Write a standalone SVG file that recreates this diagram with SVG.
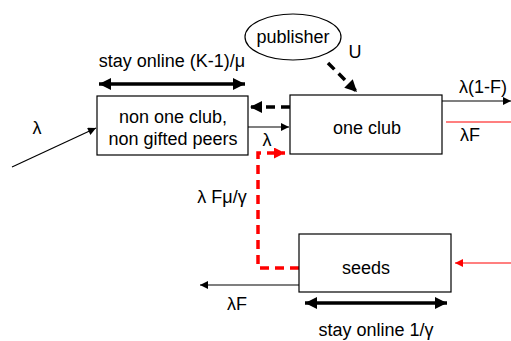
<svg xmlns="http://www.w3.org/2000/svg" width="511" height="341" viewBox="0 0 511 341">
<style>
text{font-family:"Liberation Sans",Arial,sans-serif;font-size:18px;fill:#000}
.box{fill:#fff;stroke:#000;stroke-width:1.2}
.thin{stroke:#000;stroke-width:1.2;fill:none}
.thick{stroke:#000;stroke-width:3.5;fill:none}
.dash{stroke:#000;stroke-width:3.5;fill:none;stroke-dasharray:9,6}
.rdash{stroke:#f00;stroke-width:3.5;fill:none;stroke-dasharray:9,6}
.red{stroke:#f00;stroke-width:1.2;fill:none}
</style>
<defs>
<marker id="a" viewBox="0 0 10 10" refX="10" refY="5" markerWidth="10" markerHeight="8" markerUnits="userSpaceOnUse" orient="auto-start-reverse"><path d="M0,0L10,5L0,10z" fill="#000"/></marker>
<marker id="ar" viewBox="0 0 10 10" refX="10" refY="5" markerWidth="10" markerHeight="8" markerUnits="userSpaceOnUse" orient="auto-start-reverse"><path d="M0,0L10,5L0,10z" fill="#f00"/></marker>
<marker id="A" viewBox="0 0 10 10" refX="10" refY="5" markerWidth="15" markerHeight="12" markerUnits="userSpaceOnUse" orient="auto-start-reverse"><path d="M0,0L10,5L0,10z" fill="#000"/></marker>
<marker id="AR" viewBox="0 0 10 10" refX="10" refY="5" markerWidth="13" markerHeight="11" markerUnits="userSpaceOnUse" orient="auto-start-reverse"><path d="M0,0L10,5L0,10z" fill="#f00"/></marker>
</defs>
<g id="connectors">
<line class="thin" x1="12" y1="167" x2="96" y2="128" marker-end="url(#a)"/>
<line class="thick" x1="99" y1="84" x2="245" y2="84" marker-start="url(#A)" marker-end="url(#A)"/>
<line class="dash" x1="328" y1="63" x2="357" y2="92" marker-end="url(#A)"/>
<line class="dash" x1="290" y1="107" x2="250" y2="107" marker-end="url(#A)"/>
<line class="thin" x1="248" y1="127" x2="289" y2="127" marker-end="url(#a)"/>
<path class="rdash" d="M299 268H258V153H285" marker-end="url(#AR)"/>
<line class="thin" x1="299" y1="285" x2="200" y2="285" marker-end="url(#a)"/>
<line class="thick" x1="305" y1="303" x2="447" y2="303" marker-start="url(#A)" marker-end="url(#A)"/>
<line class="red" x1="511" y1="263" x2="455" y2="263" marker-end="url(#ar)"/>
<line class="thin" x1="442" y1="101" x2="511" y2="101" marker-end="url(#a)"/>
<line class="red" x1="446" y1="122" x2="511" y2="122"/>
<text x="37" y="134" text-anchor="middle">λ</text>
<text x="172" y="67" text-anchor="middle">stay online (K-1)/μ</text>
<text x="355" y="58" text-anchor="middle">U</text>
<text x="267" y="146" text-anchor="middle">λ</text>
<text x="222" y="203" text-anchor="middle">λ Fμ/γ</text>
<text x="237" y="310" text-anchor="middle">λF</text>
<text x="376" y="336" text-anchor="middle">stay online 1/γ</text>
<text x="483" y="93" text-anchor="middle">λ(1-F)</text>
<text x="470" y="141" text-anchor="middle">λF</text>
</g>
<g id="publisher">
<ellipse cx="293" cy="37" rx="48" ry="23" fill="#fff" stroke="#000" stroke-width="1.2"/>
<text x="293" y="43" text-anchor="middle">publisher</text>
</g>
<g id="nonOneClub">
<rect class="box" x="97" y="96" width="151" height="59"/>
<text x="173" y="123" text-anchor="middle">non one club,</text>
<text x="173" y="145" text-anchor="middle">non gifted peers</text>
</g>
<g id="oneClub">
<rect class="box" x="290" y="95" width="152" height="59"/>
<text x="367" y="134" text-anchor="middle">one club</text>
</g>
<g id="seeds">
<rect class="box" x="299" y="234" width="152" height="58"/>
<text x="366" y="274" text-anchor="middle">seeds</text>
</g>
</svg>
